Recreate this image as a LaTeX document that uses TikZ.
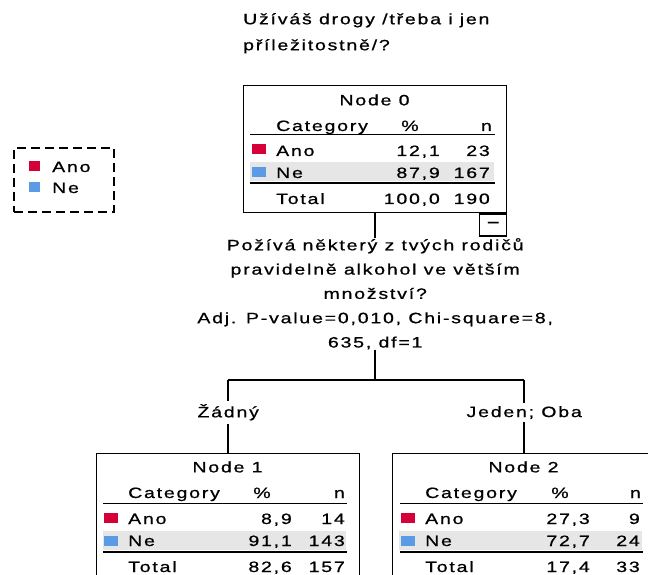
\documentclass[tikz,border=0pt]{standalone}
\usepackage{fontspec}
\setmainfont{Liberation Sans}[FakeStretch=1.3,LetterSpace=12,FakeBold=0.8]
\usepackage{xcolor}
\usepackage{tikz}
\usetikzlibrary{positioning}

\definecolor{anored}{HTML}{D5003A}
\definecolor{neblue}{HTML}{5B9BE6}
\definecolor{rowgray}{HTML}{E6E6E6}

\begin{document}
\begin{tikzpicture}[
    x=1pt, y=-1pt,
    every node/.style={inner sep=0pt, font=\fontsize{15}{24.3}\selectfont},
    treebox/.style={rectangle, draw, line width=1.4pt, minimum width=263pt, minimum height=127pt, anchor=north west},
    cell/.style={anchor=base west},
    num/.style={anchor=base east},
    swatch/.style={rectangle, minimum width=14pt, minimum height=10pt, anchor=north west},
    rule/.style={line width=1pt},
    thickrule/.style={line width=1.8pt},
    link/.style={line width=1.5pt},
    branch/.style={anchor=north, inner ysep=3pt}
]
    \useasboundingbox (0,0) rectangle (648,575);
    \clip (0,0) rectangle (648,575);

    % Dependent variable
    \node[anchor=north west, align=left, font=\fontsize{15}{26}\selectfont] (question) at (243,13) {Užíváš drogy /třeba i jen\\příležitostně/?};

    % Legend
    \node[rectangle, draw, line width=1.6pt, dash pattern=on 9pt off 5pt, minimum width=100pt, minimum height=64pt, anchor=north west] (legend) at (13,147) {};
    \node[swatch, fill=anored, minimum width=11pt] (legano) at (29,161) {};
    \node[cell] (leganotext) at (52,172) {Ano};
    \node[swatch, fill=neblue, minimum width=11pt] (legne) at (29,182) {};
    \node[cell] (legnetext) at (52,193) {Ne};

    % Node 0
    \begin{scope}[shift={(243,85)}]
        \node[treebox] (n0) at (0,0) {};
        \fill[rowgray] (7,77) rectangle (251,96);
        \node (n0head) at (131.5,15) {Node 0};
        \node[cell] (n0cat) at (33,46) {Category};
        \node[anchor=base] (n0pct) at (167,46) {\%};
        \node[num] (n0n) at (249,46) {n};
        \draw[rule] (7,50) -- (252,50);
        \node[swatch, fill=anored] (n0sqano) at (9,59) {};
        \node[cell] (n0ano) at (33,71) {Ano};
        \node[num] (n0anopct) at (197,71) {12,1};
        \node[num] (n0anon) at (247,71) {23};
        \node[swatch, fill=neblue] (n0sqne) at (9,82) {};
        \node[cell] (n0ne) at (33,93) {Ne};
        \node[num] (n0nepct) at (197,93) {87,9};
        \node[num] (n0nen) at (247,93) {167};
        \draw[thickrule] (7,98) -- (252,98);
        \node[cell] (n0tot) at (33,119) {Total};
        \node[num] (n0totpct) at (197,119) {100,0};
        \node[num] (n0totn) at (247,119) {190};
    \end{scope}
    \node[rectangle, draw, line width=1.4pt, minimum width=27pt, minimum height=22pt, anchor=north east, font=\fontsize{17}{17}\selectfont] (n0toggle) at (n0.south east) {−};

    % Split
    \node[anchor=north, align=center] (split) at (n0.south |- 0,238) {Požívá některý z tvých rodičů\\pravidelně alkohol ve větším\\množství?\\Adj. P-value=0,010, Chi-square=8,\\635, df=1};

    % Node 1
    \begin{scope}[shift={(96,453)}]
        \node[treebox] (n1) at (0,0) {};
        \fill[rowgray] (7,78) rectangle (250,97);
        \node (n1head) at (131.5,14) {Node 1};
        \node[cell] (n1cat) at (32,45) {Category};
        \node[anchor=base] (n1pct) at (166,45) {\%};
        \node[num] (n1n) at (249,45) {n};
        \draw[rule] (7,50) -- (251,50);
        \node[swatch, fill=anored] (n1sqano) at (8,60) {};
        \node[cell] (n1ano) at (32,71) {Ano};
        \node[num] (n1anopct) at (196,71) {8,9};
        \node[num] (n1anon) at (249,71) {14};
        \node[swatch, fill=neblue] (n1sqne) at (8,83) {};
        \node[cell] (n1ne) at (32,93) {Ne};
        \node[num] (n1nepct) at (196,93) {91,1};
        \node[num] (n1nen) at (249,93) {143};
        \draw[thickrule] (7,99) -- (251,99);
        \node[cell] (n1tot) at (32,119) {Total};
        \node[num] (n1totpct) at (196,119) {82,6};
        \node[num] (n1totn) at (249,119) {157};
    \end{scope}

    % Node 2
    \begin{scope}[shift={(392,453)}]
        \node[treebox] (n2) at (0,0) {};
        \fill[rowgray] (7,78) rectangle (250,97);
        \node (n2head) at (131.5,14) {Node 2};
        \node[cell] (n2cat) at (33,45) {Category};
        \node[anchor=base] (n2pct) at (168,45) {\%};
        \node[num] (n2n) at (249,45) {n};
        \draw[rule] (8,50) -- (251,50);
        \node[swatch, fill=anored] (n2sqano) at (9,60) {};
        \node[cell] (n2ano) at (33,71) {Ano};
        \node[num] (n2anopct) at (198,71) {27,3};
        \node[num] (n2anon) at (248,71) {9};
        \node[swatch, fill=neblue] (n2sqne) at (9,83) {};
        \node[cell] (n2ne) at (33,93) {Ne};
        \node[num] (n2nepct) at (198,93) {72,7};
        \node[num] (n2nen) at (248,93) {24};
        \draw[thickrule] (8,99) -- (251,99);
        \node[cell] (n2tot) at (33,119) {Total};
        \node[num] (n2totpct) at (198,119) {17,4};
        \node[num] (n2totn) at (248,119) {33};
    \end{scope}

    % Branch labels
    \coordinate (joint) at (split.south |- 0,380);
    \coordinate (leftend) at (n1.north |- joint);
    \coordinate (rightend) at (n2.north |- joint);
    \node[branch] (lab1) at (n1.north |- 0,401) {Žádný};
    \node[branch] (lab2) at (n2.north |- 0,403) {Jeden; Oba};

    % Connections
    \draw[link] (n0.south) -- (split.north);
    \draw[link] (split.south) -- (joint);
    \draw[link] (leftend) -- (rightend);
    \draw[link] (leftend) -- (lab1.north);
    \draw[link] (lab1.south) -- (n1.north);
    \draw[link] (rightend) -- (lab2.north);
    \draw[link] (lab2.south) -- (n2.north);

\end{tikzpicture}
\end{document}
